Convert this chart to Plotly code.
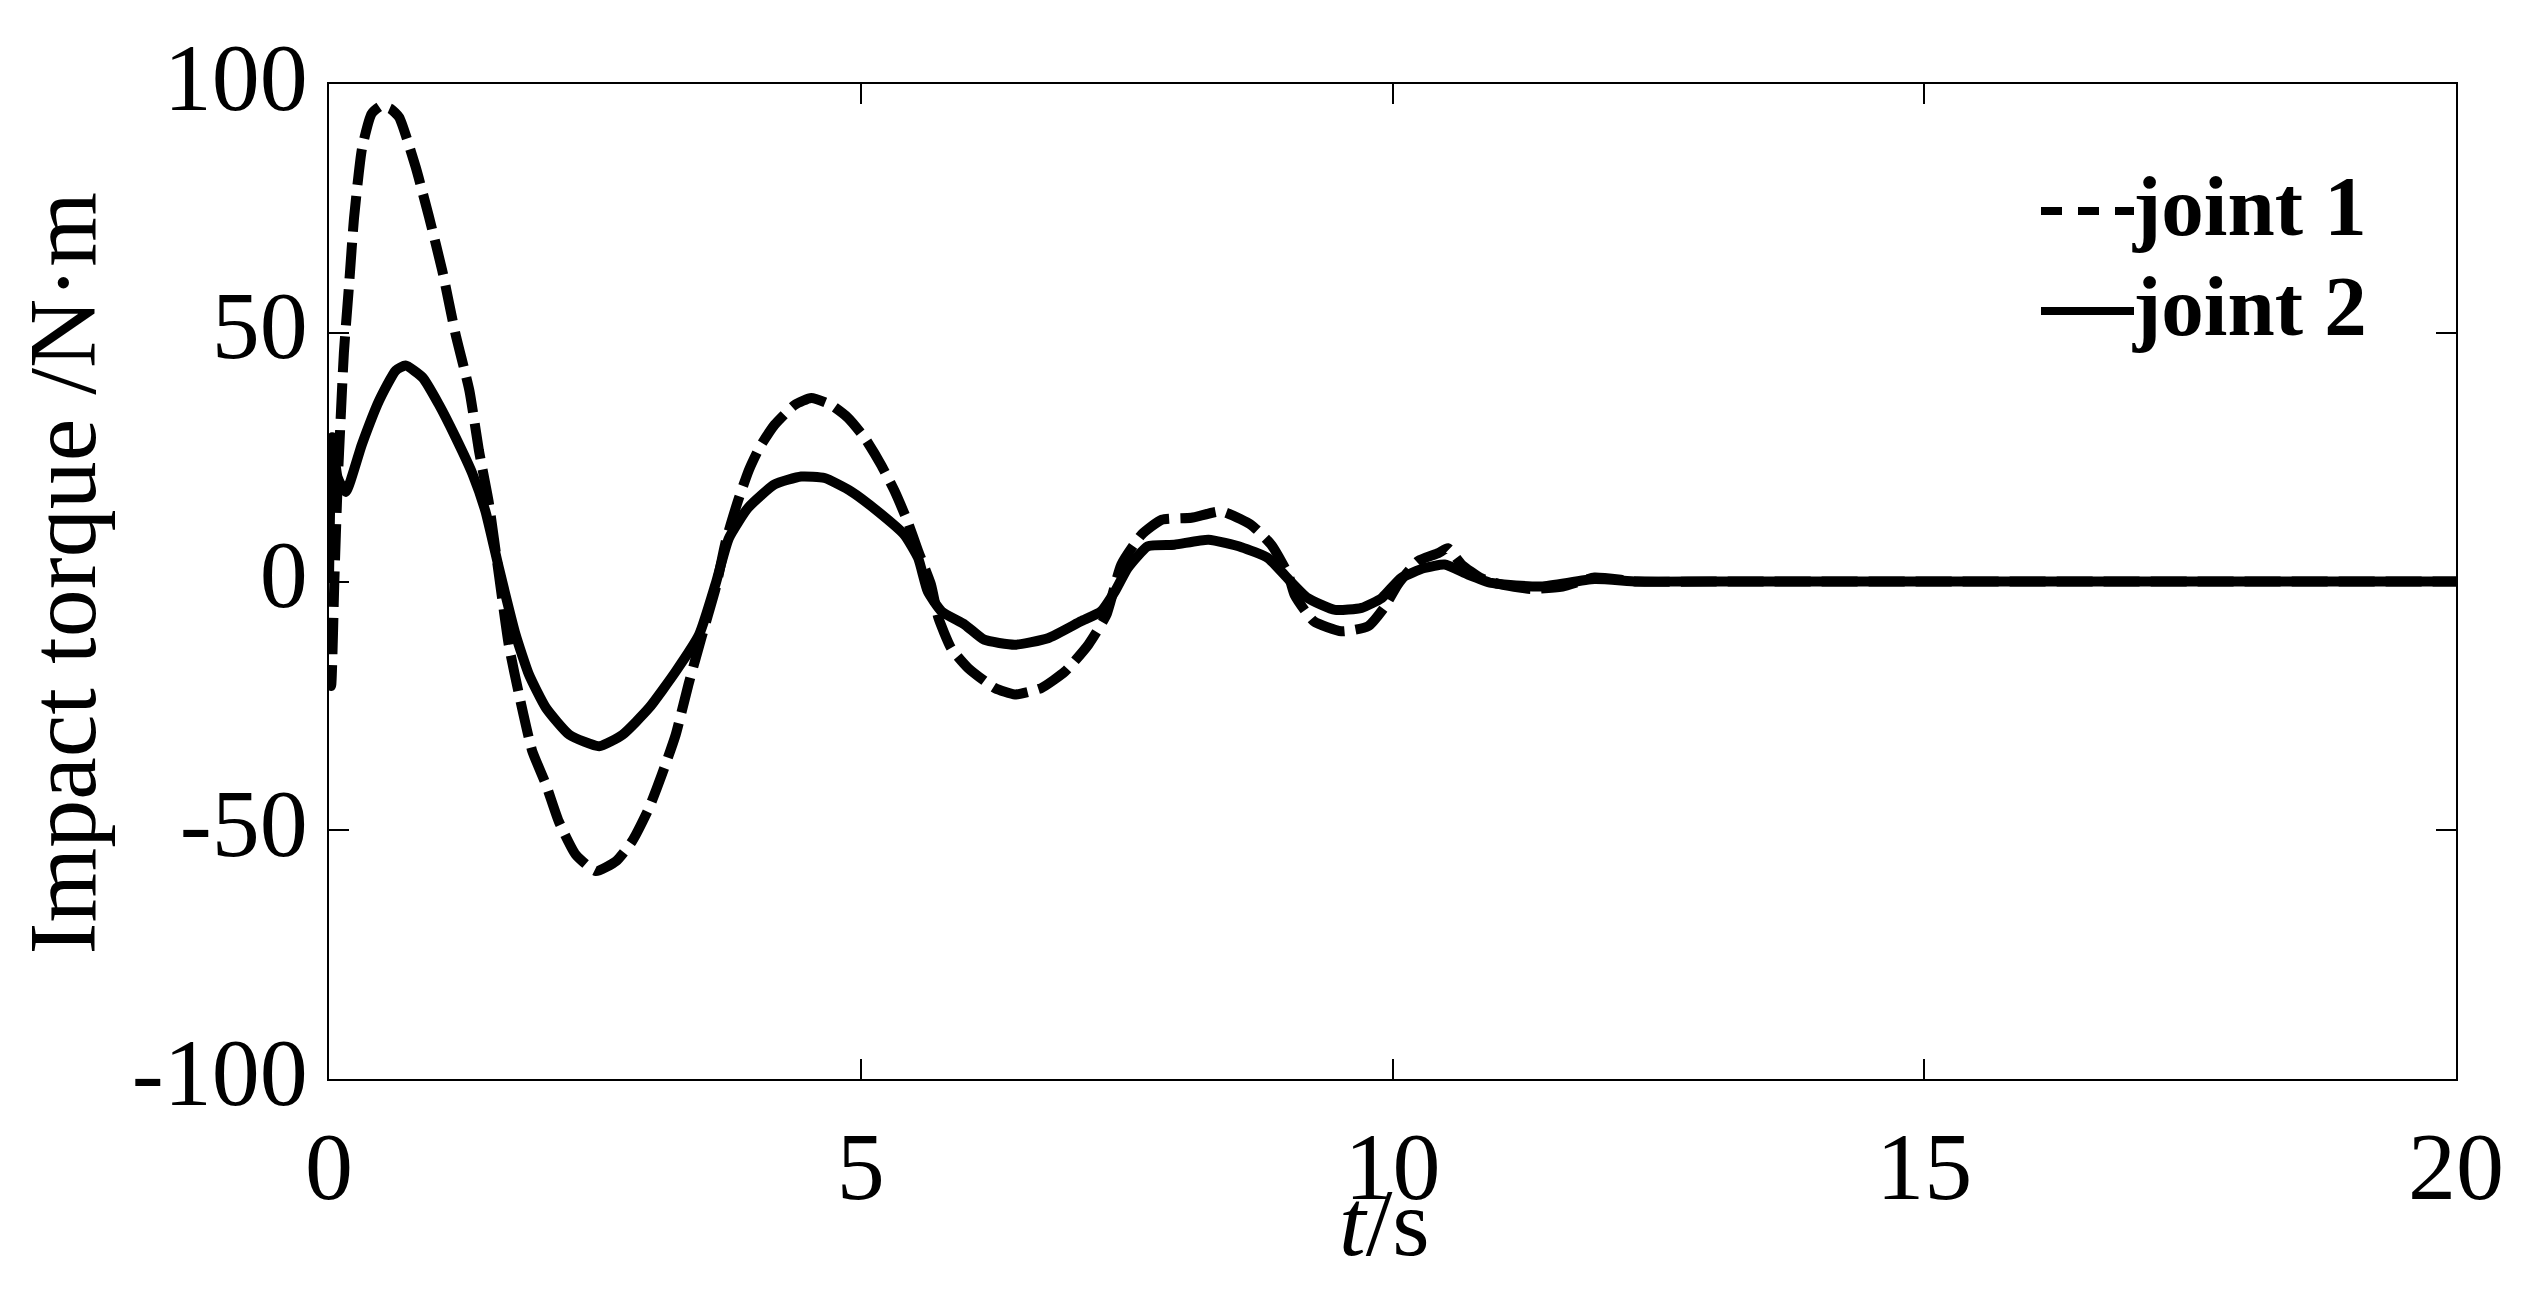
import plotly.graph_objects as go

# ---- data ----
t_joint1 = [0, 0.02, 0.05, 0.08, 0.11, 0.14, 0.19, 0.235, 0.31, 0.40, 0.49, 0.58, 0.66,
            0.815, 0.94, 1.065, 1.19, 1.32, 1.41, 1.50, 1.60, 1.69, 1.80, 1.91, 2.04,
            2.16, 2.32, 2.51, 2.70, 2.85, 3.01, 3.13, 3.26, 3.38, 3.51, 3.64, 3.73,
            3.85, 3.95, 4.05, 4.19, 4.38, 4.535, 4.72, 4.88, 5.04, 5.19, 5.32, 5.44,
            5.54, 5.66, 5.73, 5.85, 6.01, 6.26, 6.45, 6.70, 6.92, 7.14, 7.31, 7.45,
            7.64, 7.83, 8.11, 8.39, 8.67, 8.86, 9.02, 9.08, 9.26, 9.52, 9.77, 9.92,
            10.05, 10.24, 10.43, 10.52, 10.65, 10.83, 11.0, 11.3, 11.6, 11.9, 12.3,
            13.0, 20.0]
torque_joint1 = [-18, -21, 0, 19, 33, 46, 60, 73, 87, 94, 95.6, 95, 93.3,
                 83.3, 73.3, 62.5, 49.7, 38.4, 26.3, 16.2, 1, -12.7, -24, -34, -40.8,
                 -48.2, -54.9, -58.2, -56.2, -52.2, -45.5, -38.8, -30.8, -20.7, -10.7, -1, 8,
                 16.5, 22.5, 27, 31.5, 35.5, 36.9, 35.5, 32.9, 28.8, 23.5, 18.1, 12.1,
                 6.1, -0.6, -7.3, -13.4, -17.4, -21.4, -22.7, -21.4, -18.1, -12.7, -6.7, 3.4,
                 9.4, 12.4, 12.8, 14.1, 11.4, 7.4, 1.4, -2.7, -8, -10, -9, -5.3,
                 -0.6, 4.1, 5.7, 6.7, 3.4, 0.7, -0.5, -1.5, -1, 0.8, 0,
                 0, 0]

t_joint2 = [0, 0.03, 0.08, 0.157, 0.31, 0.47, 0.627, 0.72, 0.88, 1.03, 1.19, 1.35, 1.47,
            1.60, 1.755, 1.88, 2.04, 2.26, 2.54, 2.76, 3.01, 3.26, 3.48, 3.635, 3.76,
            3.94, 4.19, 4.44, 4.66, 4.91, 5.16, 5.41, 5.54, 5.63, 5.76, 5.98, 6.16,
            6.45, 6.76, 7.07, 7.26, 7.39, 7.51, 7.70, 7.95, 8.27, 8.58, 8.83, 9.02,
            9.20, 9.46, 9.71, 9.90, 10.08, 10.30, 10.49, 10.71, 10.93, 11.05, 11.4,
            11.9, 12.3, 13.0, 20.0]
torque_joint2 = [0, 29, 21, 18, 27.6, 36.3, 42.4, 43.4, 41, 35.7, 29, 21.6, 14.2,
                 2.5, -10.7, -18.7, -25.4, -30.8, -33.1, -30.8, -25.4, -18.1, -10.7, -0.5, 8.7,
                 14.8, 19.5, 21.1, 20.8, 18.1, 14.1, 9.4, 4.7, -2, -6, -8.7, -11.7,
                 -12.7, -11.4, -8, -6, -2, 2.7, 7.1, 7.4, 8.4, 6.9, 4.7, 0.5,
                 -3.3, -5.7, -5.3, -3.3, 0.7, 2.7, 3.4, 1.4, -0.3, -0.6, -1,
                 0.5, 0, 0, 0]

x_ticks = [0, 5, 10, 15, 20]
y_ticks = [-100, -50, 0, 50, 100]
series_names = ["joint 1", "joint 2"]

FONT = "Liberation Serif, Times New Roman, serif"
W, H = 2529, 1290
L, R, T, B = 321, 81, 76, 219
pw, ph = W - L - R, H - T - B

fig = go.Figure()
fig.add_trace(go.Scatter(x=t_joint1, y=torque_joint1, mode="lines", name=series_names[0],
                         line=dict(color="black", width=10, dash="36px,11px",
                                   shape="spline", smoothing=0.5),
                         showlegend=False))
fig.add_trace(go.Scatter(x=t_joint2, y=torque_joint2, mode="lines", name=series_names[1],
                         line=dict(color="black", width=10, shape="spline", smoothing=0.5),
                         showlegend=False))

axis_common = dict(showline=True, linecolor="black", linewidth=2, mirror="ticks",
                   ticks="inside", ticklen=20, tickwidth=2, tickcolor="black",
                   showgrid=False, zeroline=False,
                   tickfont=dict(family=FONT, size=96, color="black"))
fig.update_xaxes(range=[0, 20], tickvals=x_ticks, ticktext=[str(v) for v in x_ticks],
                 ticklabelstandoff=3, **axis_common)
fig.update_yaxes(range=[-100, 100], tickvals=y_ticks, ticktext=[str(v) for v in y_ticks],
                 ticklabelstandoff=0, ticklabelshift=-8, **axis_common)

# axis titles
fig.add_annotation(text="Impact torque /N·m", xref="paper", yref="paper", x=0, y=0.5,
                   xanchor="center", yanchor="middle", xshift=54 - L, yshift=8,
                   textangle=-90,
                   showarrow=False, font=dict(family=FONT, size=96, color="black"))
fig.add_annotation(text="<i>t</i>/s", xref="paper", yref="paper", x=0.5, y=0,
                   xanchor="center", yanchor="middle", yshift=-143, xshift=-8,
                   showarrow=False, font=dict(family=FONT, size=96, color="black"))

# legend (drawn manually)
def px_x(px):
    return (px - L) / pw

def px_y(py):
    return 1 - (py - T) / ph

leg_rows = [(203, "21px,16px"), (303, "solid")]
for (yy, dash), name in zip(leg_rows, series_names):
    fig.add_shape(type="line", xref="paper", yref="paper",
                  x0=px_x(2033), x1=px_x(2126), y0=px_y(yy), y1=px_y(yy),
                  line=dict(color="black", width=8, dash=dash))
    fig.add_annotation(text="<b>%s</b>" % name, xref="paper", yref="paper",
                       x=px_x(2122), y=px_y(yy - 5), xanchor="left", yanchor="middle",
                       showarrow=False, font=dict(family=FONT, size=85, color="black"))

fig.update_layout(width=W, height=H, margin=dict(l=L, r=R, t=T, b=B, autoexpand=False),
                  paper_bgcolor="white", plot_bgcolor="white", showlegend=False)

fig.write_html("out.html")
